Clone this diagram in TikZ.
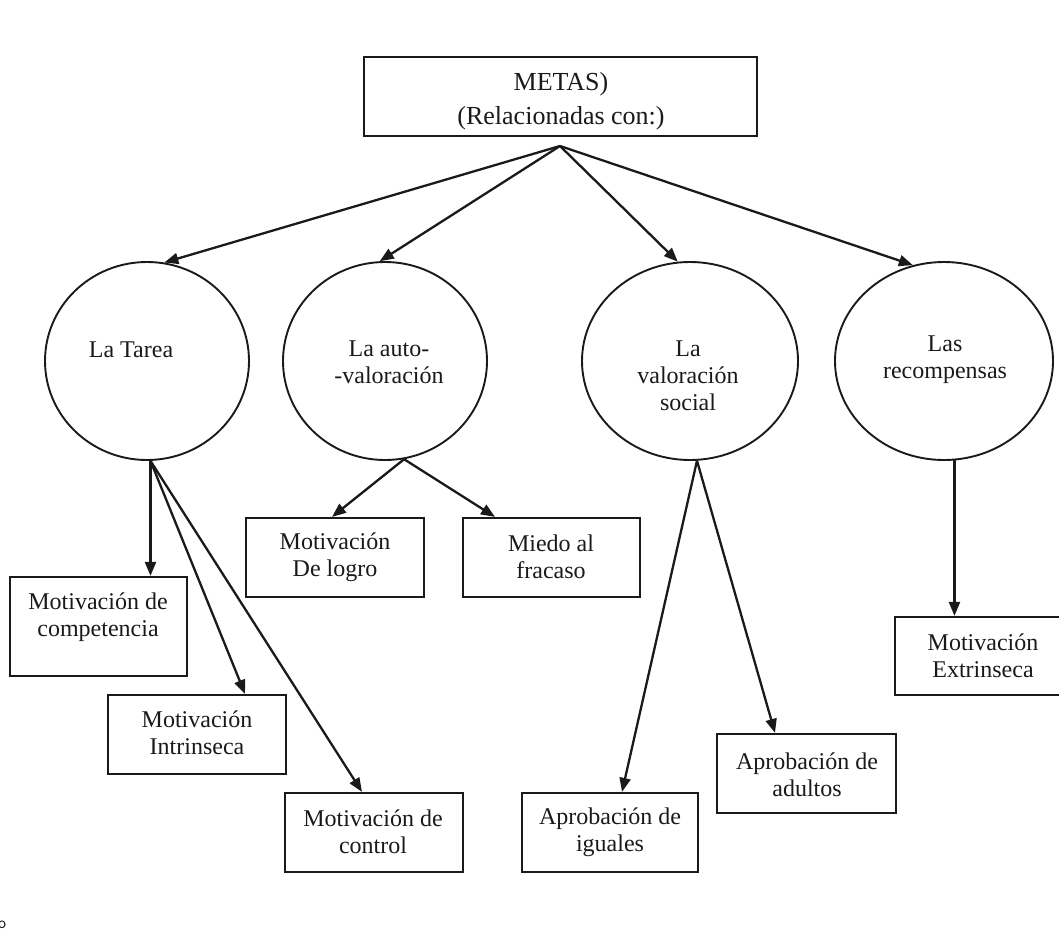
\documentclass[tikz,border=0pt]{standalone}
\usepackage{fontspec}
\setmainfont{Liberation Serif}
\usetikzlibrary{arrows.meta,shapes.geometric}
\definecolor{ink}{HTML}{1A1A1A}
\begin{document}
\begin{tikzpicture}[x=1pt,y=-1pt,
  box/.style={draw=ink,line width=2.2pt,rectangle,inner sep=0pt},
  oval/.style={draw=ink,line width=1.9pt,ellipse,inner sep=0pt},
  txt/.style={text=ink,font=\fontsize{24}{27}\selectfont,align=center,inner sep=0pt},
  arr/.style={draw=ink,line width=2.3pt,-{Triangle[length=14pt,width=11pt]}}]
\useasboundingbox[fill=white] (0,0) rectangle (1059,939);

% top
\node[box,minimum width=393pt,minimum height=79pt] (metas) at (560.5,96.5) {};
\node[txt,font=\fontsize{26}{34}\selectfont] (metast) at (561,101) {METAS)\\(Relacionadas con:)};
\coordinate (hub) at (560,146);

% ellipses
\node[oval,minimum width=204pt,minimum height=198pt] (tarea) at (147,361) {};
\node[oval,minimum width=204pt,minimum height=198pt] (auto) at (385,361) {};
\node[oval,minimum width=216pt,minimum height=198pt] (valor) at (690,361) {};
\node[oval,minimum width=218pt,minimum height=198pt] (recomp) at (944,361) {};
\node[txt] (tareat) at (131,350) {La Tarea};
\node[txt] (autot) at (389,362) {La auto-\\-valoración};
\node[txt] (valort) at (688,376) {La\\valoración\\social};
\node[txt] (recompt) at (945,360) {Las\\recompensas};

\draw[arr] (hub) -- (tarea.80.7);
\draw[arr] (hub) -- (auto.93);
\draw[arr] (hub) -- (valor.97.6);
\draw[arr] (hub) -- (recomp.108);

% boxes
\node[box,minimum width=177pt,minimum height=99pt] (comp) at (98.5,626.5) {};
\node[box,minimum width=178pt,minimum height=79pt] (intr) at (197,734.5) {};
\node[box,minimum width=178pt,minimum height=79pt] (ctrl) at (374,832.5) {};
\node[box,minimum width=178pt,minimum height=79pt] (logro) at (335,557.5) {};
\node[box,minimum width=177pt,minimum height=79pt] (miedo) at (551.5,557.5) {};
\node[box,minimum width=176pt,minimum height=79pt] (igual) at (610,832.5) {};
\node[box,minimum width=179pt,minimum height=79pt] (adult) at (806.5,773.5) {};
\node[box,minimum width=176pt,minimum height=78pt] (extr) at (983,656) {};

\node[txt] (compt) at (98,617) {Motivación de\\competencia};
\node[txt] (intrt) at (197,733) {Motivación\\Intrinseca};
\node[txt] (ctrlt) at (373,832) {Motivación de\\control};
\node[txt] (logrot) at (335,557) {Motivación\\De logro};
\node[txt] (miedot) at (551,557) {Miedo al\\fracaso};
\node[txt] (igualt) at (610,832) {Aprobación de\\iguales};
\node[txt] (adultt) at (807,775) {Aprobación de\\adultos};
\node[txt] (extrt) at (983,656) {Motivación\\Extrinseca};

% connectors
\draw[arr] (tarea.272) -- (tarea.272 |- comp.north);
\draw[arr] (tarea.272) -- ([xshift=48pt]intr.north);
\draw[arr] (tarea.272) -- ([xshift=-12pt]ctrl.north);
\draw[arr] (auto.281.6) -- ([xshift=-3pt]logro.north);
\draw[arr] (auto.281.6) -- ([xshift=-56.5pt]miedo.north);
\draw[arr] (valor.274.6) -- ([xshift=12pt]igual.north);
\draw[arr] (valor.274.6) -- ([xshift=-31.5pt]adult.north);
\draw[arr] (recomp.276) -- (recomp.276 |- extr.north);

\node[text=ink,font=\fontsize{17}{17}\sffamily,inner sep=0pt] (o) at (2,925) {o};
\end{tikzpicture}
\end{document}
